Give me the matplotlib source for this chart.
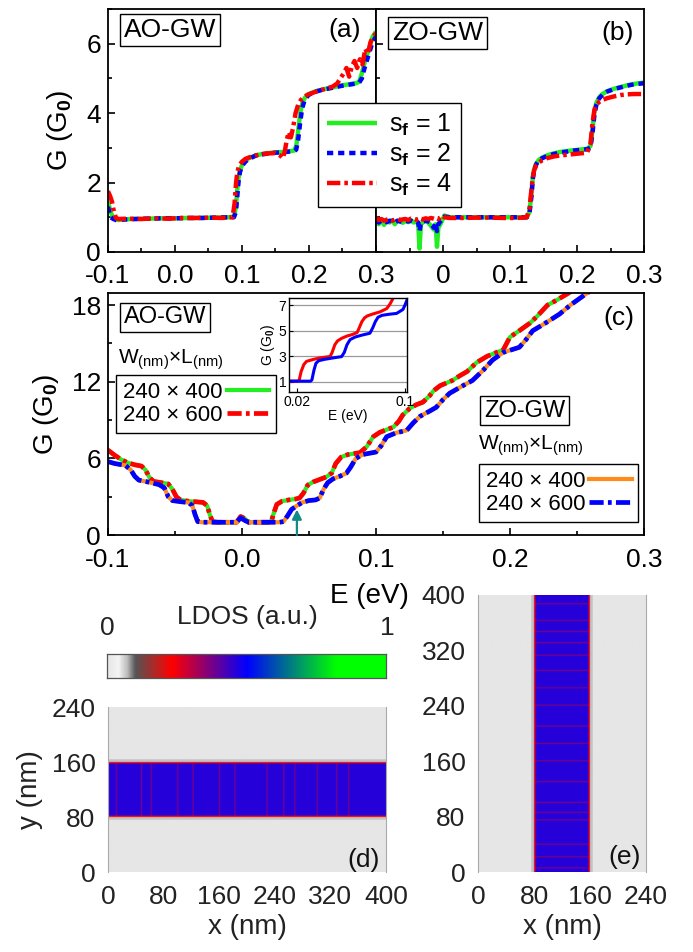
import numpy as np
import matplotlib
matplotlib.use("Agg")
import matplotlib.pyplot as plt
from matplotlib.colors import LinearSegmentedColormap
from matplotlib.ticker import MultipleLocator

plt.rcParams['font.family'] = ['Liberation Sans', 'DejaVu Sans']
plt.rcParams['mathtext.fontset'] = 'custom'
plt.rcParams['mathtext.rm'] = 'Liberation Sans'
plt.rcParams['mathtext.it'] = 'Liberation Sans:italic'
plt.rcParams['mathtext.bf'] = 'Liberation Sans:bold'
plt.rcParams['mathtext.default'] = 'regular'

# ---- panel (a): AO-GW, three s_f values
a_E_s1 = [-0.100, -0.096, -0.092, -0.088, -0.084, -0.080, -0.060, -0.040, -0.020, 0.000,
          0.020, 0.040, 0.060, 0.080, 0.088, 0.091, 0.093, 0.095, 0.097, 0.100,
          0.105, 0.110, 0.120, 0.130, 0.140, 0.150, 0.160, 0.170, 0.178, 0.181,
          0.184, 0.187, 0.190, 0.194, 0.200, 0.210, 0.220, 0.230, 0.240, 0.250,
          0.260, 0.270, 0.275, 0.279, 0.283, 0.287, 0.291, 0.295, 0.300]
a_G_s1 = [1.45, 1.15, 0.98, 0.94, 0.92, 0.94, 0.95, 0.96, 0.97, 0.97,
          0.98, 0.98, 0.99, 1.00, 1.02, 1.30, 1.80, 2.15, 2.35, 2.50,
          2.62, 2.70, 2.78, 2.82, 2.85, 2.87, 2.88, 2.90, 2.92, 3.05,
          3.50, 4.00, 4.28, 4.45, 4.55, 4.63, 4.68, 4.72, 4.76, 4.80,
          4.83, 4.86, 4.90, 5.15, 5.45, 5.70, 5.95, 6.20, 6.35]
a_G_s2 = [1.30, 1.00, 0.95, 0.92, 0.90, 0.93, 0.95, 0.96, 0.97, 0.97,
          0.98, 0.98, 0.99, 1.00, 1.00, 1.15, 1.60, 2.05, 2.30, 2.48,
          2.60, 2.68, 2.77, 2.81, 2.84, 2.86, 2.87, 2.89, 2.90, 2.95,
          3.25, 3.75, 4.15, 4.40, 4.53, 4.62, 4.67, 4.71, 4.75, 4.79,
          4.82, 4.85, 4.88, 5.00, 5.30, 5.55, 5.80, 6.05, 6.20]
a_E_s4 = [-0.100, -0.097, -0.094, -0.091, -0.088, -0.084, -0.070, -0.050, -0.030, -0.010,
          0.010, 0.030, 0.050, 0.070, 0.086, 0.089, 0.091, 0.093, 0.096, 0.100,
          0.105, 0.110, 0.120, 0.130, 0.140, 0.150, 0.157, 0.161, 0.164, 0.167,
          0.170, 0.173, 0.176, 0.180, 0.184, 0.188, 0.192, 0.197, 0.205, 0.215,
          0.225, 0.235, 0.242, 0.247, 0.252, 0.256, 0.260, 0.264, 0.268, 0.272,
          0.276, 0.280, 0.284, 0.288, 0.292, 0.296, 0.300]
a_G_s4 = [1.75, 1.62, 1.45, 1.15, 0.98, 0.95, 0.96, 0.95, 0.97, 0.96,
          0.98, 0.98, 0.99, 0.98, 1.00, 1.40, 1.95, 2.30, 2.50, 2.60,
          2.68, 2.72, 2.78, 2.82, 2.84, 2.85, 2.78, 2.70, 2.90, 3.25,
          3.45, 3.30, 3.55, 4.00, 4.25, 4.38, 4.45, 4.52, 4.58, 4.65,
          4.70, 4.76, 4.85, 5.00, 5.15, 5.30, 5.05, 5.35, 5.50, 5.30,
          5.55, 5.40, 5.85, 5.70, 6.05, 6.20, 6.30]

# ---- panel (b): ZO-GW, three s_f values
b_E = [-0.100, -0.096, -0.092, -0.088, -0.084, -0.080, -0.076, -0.072, -0.068, -0.064,
       -0.060, -0.056, -0.052, -0.048, -0.044, -0.040, -0.037, -0.035, -0.033, -0.030,
       -0.026, -0.022, -0.018, -0.014, -0.011, -0.009, -0.007, -0.004, -0.001, 0.002,
       0.010, 0.030, 0.050, 0.070, 0.090, 0.110, 0.125, 0.129, 0.132, 0.134,
       0.136, 0.139, 0.143, 0.148, 0.155, 0.165, 0.175, 0.185, 0.195, 0.205,
       0.215, 0.220, 0.223, 0.226, 0.229, 0.233, 0.238, 0.245, 0.255, 0.265,
       0.275, 0.285, 0.300]
b_G_s1 = [0.95, 0.80, 0.92, 0.78, 0.90, 0.85, 0.92, 0.80, 0.90, 0.88,
          0.84, 0.90, 0.86, 0.92, 0.85, 0.88, 0.80, 0.10, 0.80, 0.85,
          0.90, 0.85, 0.75, 0.65, 0.80, 0.15, 0.70, 0.80, 0.92, 1.05,
          1.00, 1.00, 1.00, 1.00, 1.00, 1.00, 1.00, 1.15, 1.70, 2.15,
          2.38, 2.55, 2.65, 2.72, 2.78, 2.84, 2.88, 2.91, 2.93, 2.95,
          2.97, 3.05, 3.50, 4.05, 4.30, 4.45, 4.55, 4.63, 4.70, 4.75,
          4.80, 4.84, 4.88]
b_G_s2 = [0.92, 0.85, 0.90, 0.88, 0.86, 0.90, 0.88, 0.85, 0.90, 0.88,
          0.87, 0.90, 0.88, 0.90, 0.86, 0.88, 0.85, 0.60, 0.85, 0.88,
          0.90, 0.88, 0.85, 0.70, 0.85, 0.60, 0.80, 0.88, 0.95, 1.02,
          1.00, 1.00, 1.00, 1.00, 1.00, 1.00, 1.00, 1.10, 1.60, 2.10,
          2.35, 2.52, 2.63, 2.70, 2.76, 2.82, 2.86, 2.89, 2.92, 2.94,
          2.96, 3.00, 3.40, 3.95, 4.25, 4.42, 4.53, 4.62, 4.69, 4.74,
          4.79, 4.83, 4.86]
b_G_s4 = [0.98, 0.92, 0.95, 0.90, 0.93, 0.95, 0.90, 0.93, 0.95, 0.92,
          0.94, 0.95, 0.92, 0.96, 0.95, 0.93, 0.95, 0.92, 0.96, 0.94,
          0.97, 0.95, 0.98, 0.96, 0.94, 0.97, 0.95, 1.00, 1.05, 1.00,
          0.98, 0.98, 0.99, 0.99, 0.98, 0.98, 1.00, 1.25, 1.80, 2.15,
          2.35, 2.50, 2.58, 2.64, 2.70, 2.75, 2.78, 2.80, 2.82, 2.84,
          2.86, 3.10, 3.70, 4.10, 4.25, 4.32, 4.38, 4.43, 4.48, 4.52,
          4.54, 4.55, 4.55]

# ---- panel (c): AO-GW and ZO-GW for two lengths (the two lengths overlap)
ao_E = [-0.100, -0.095, -0.090, -0.085, -0.080, -0.075, -0.072, -0.069, -0.066, -0.060,
        -0.055, -0.052, -0.049, -0.046, -0.040, -0.034, -0.029, -0.026, -0.024, -0.022,
        -0.018, -0.010, -0.004, -0.001, 0.002, 0.005, 0.012, 0.020, 0.022, 0.024,
        0.026, 0.030, 0.035, 0.040, 0.043, 0.046, 0.049, 0.053, 0.058, 0.063,
        0.067, 0.070, 0.074, 0.079, 0.088, 0.093, 0.098, 0.103, 0.108, 0.113,
        0.117, 0.120, 0.125, 0.130, 0.135, 0.140, 0.143, 0.148, 0.157, 0.163,
        0.168, 0.175, 0.183, 0.190, 0.195, 0.200, 0.207, 0.215, 0.220, 0.228,
        0.235, 0.243, 0.252]
ao_G = [6.65, 6.25, 5.90, 5.65, 5.50, 5.40, 5.10, 4.50, 4.20, 4.10,
        4.00, 3.60, 3.00, 2.75, 2.65, 2.60, 2.55, 2.30, 1.60, 1.05,
        1.00, 1.00, 1.00, 1.45, 1.30, 1.00, 1.00, 1.00, 1.10, 1.80,
        2.40, 2.65, 2.75, 2.82, 2.90, 3.30, 3.90, 4.15, 4.35, 4.55,
        4.85, 5.60, 6.10, 6.30, 6.45, 6.90, 7.70, 8.05, 8.25, 8.45,
        8.90, 9.40, 9.90, 10.20, 10.40, 10.90, 11.30, 11.70, 12.10, 12.50,
        12.80, 13.50, 14.00, 14.30, 14.50, 15.50, 16.00, 16.60, 17.10, 18.00,
        18.40, 18.90, 19.50]
zo_E = [-0.100, -0.095, -0.087, -0.083, -0.080, -0.077, -0.070, -0.062, -0.058, -0.055,
        -0.052, -0.045, -0.040, -0.037, -0.035, -0.033, -0.030, -0.015, -0.004, -0.001,
        0.002, 0.005, 0.015, 0.028, 0.031, 0.034, 0.037, 0.041, 0.045, 0.050,
        0.055, 0.058, 0.061, 0.064, 0.068, 0.073, 0.078, 0.081, 0.085, 0.090,
        0.100, 0.104, 0.108, 0.115, 0.123, 0.128, 0.133, 0.140, 0.145, 0.150,
        0.155, 0.165, 0.172, 0.180, 0.187, 0.195, 0.207, 0.212, 0.217, 0.225,
        0.237, 0.245, 0.257, 0.265]
zo_G = [5.75, 5.60, 5.45, 5.10, 4.60, 4.30, 4.15, 3.95, 3.70, 3.00,
        2.70, 2.60, 2.55, 2.30, 1.60, 1.05, 1.00, 1.00, 1.00, 1.35,
        1.15, 1.00, 1.00, 1.00, 1.05, 1.50, 2.00, 2.30, 2.55, 2.70,
        2.75, 2.90, 3.60, 4.10, 4.40, 4.60, 4.85, 5.30, 6.00, 6.30,
        6.50, 7.00, 7.70, 8.00, 8.20, 8.80, 9.30, 9.70, 10.00, 10.60,
        11.10, 11.70, 12.10, 12.90, 13.70, 14.30, 14.70, 15.30, 16.00, 16.50,
        17.30, 18.00, 18.90, 19.50]
arrow_E = 0.041
arrow_G = 2.0

# inset of (c)
ins_red_E = [0.014, 0.020, 0.0215, 0.023, 0.025, 0.027, 0.032, 0.037, 0.041, 0.0445,
             0.046, 0.048, 0.050, 0.053, 0.057, 0.061, 0.0645, 0.066, 0.068, 0.070,
             0.072, 0.076, 0.0815, 0.0865, 0.089, 0.091, 0.093]
ins_red_G = [1.05, 1.05, 1.10, 1.80, 2.35, 2.60, 2.75, 2.87, 2.93, 2.98,
             3.30, 3.90, 4.20, 4.40, 4.58, 4.70, 4.85, 5.20, 5.70, 6.00,
             6.15, 6.30, 6.47, 6.73, 7.10, 7.50, 7.90]
ins_blue_E = [0.014, 0.030, 0.031, 0.0325, 0.034, 0.036, 0.040, 0.0467, 0.053, 0.055,
              0.057, 0.0593, 0.063, 0.068, 0.074, 0.076, 0.078, 0.080, 0.083, 0.088,
              0.0938, 0.0985, 0.100, 0.1015]
ins_blue_G = [1.05, 1.05, 1.15, 1.90, 2.45, 2.65, 2.75, 2.87, 2.97, 3.30,
              3.90, 4.30, 4.50, 4.65, 4.80, 5.20, 5.70, 6.05, 6.20, 6.28,
              6.35, 6.66, 7.00, 7.40]

# ---- LDOS maps (d), (e): ribbon edges (nm) and stripe positions (nm)
rib_lo, rib_hi = 80, 160
d_stripes = [12, 48, 62, 100, 122, 160, 182, 228, 252, 268, 300, 328, 345]
e_stripes = [6, 22, 40, 75, 86, 100, 130, 160, 185, 210, 240, 265, 290, 312, 330, 346, 362, 386]
bg_val, shadow_val, edge_val, core_val, stripe_val = 0.0, 0.07, 0.24, 0.46, 0.38

ldos_cmap = LinearSegmentedColormap.from_list('ldos', [
    (0.0, '#e6e6e6'), (0.04, '#f4f4f4'), (0.07, '#bdbdbd'), (0.10, '#555555'),
    (0.23, '#ff0000'), (0.50, '#0000ff'), (0.82, '#00ff00'), (1.0, '#00ff00')])

c_green, c_blue, c_red, c_orange = '#22ee22', '#0000ff', '#ff0000', '#ff8c1a'
dot = (0, (1.4, 1.1))
dashdot = (0, (3.0, 0.9, 0.8, 0.9))


def style(ax, size=19):
    ax.tick_params(which='both', direction='in', labelsize=size, width=1.2, colors='black')
    ax.tick_params(which='major', length=5)
    ax.tick_params(which='minor', length=3)
    for s in ax.spines.values():
        s.set_linewidth(1.3)


def boxed(ax, x, y, s, size):
    ax.text(x, y, s, transform=ax.transAxes, fontsize=size, ha='center', va='center',
            bbox=dict(boxstyle='square,pad=0.15', fc='white', ec='black', lw=1.0))


fig = plt.figure(figsize=(6.93, 9.52), dpi=100)

# ---------------- (a)
ax_a = fig.add_axes([0.1558, 0.7353, 0.3867, 0.2553])
l1, = ax_a.plot(a_E_s1, a_G_s1, color=c_green, lw=3.2, solid_capstyle='butt')
l2, = ax_a.plot(a_E_s1, a_G_s2, color=c_blue, lw=3.2, ls=dot)
l4, = ax_a.plot(a_E_s4, a_G_s4, color=c_red, lw=3.2, ls=dashdot)
ax_a.set_xlim(-0.1, 0.3)
ax_a.set_ylim(0, 7)
ax_a.set_xticks([-0.1, 0.0, 0.1, 0.2, 0.3])
ax_a.set_xticklabels(['-0.1', '0.0', '0.1', '0.2', '0.3'])
ax_a.xaxis.set_minor_locator(MultipleLocator(0.05))
ax_a.yaxis.set_major_locator(MultipleLocator(2))
ax_a.yaxis.set_minor_locator(MultipleLocator(1))
style(ax_a)
ax_a.tick_params(axis='x', pad=9)
ax_a.tick_params(axis='y', pad=5)
ax_a.set_ylabel('G (G$_\\mathbf{0}$)', fontsize=20, labelpad=8)
boxed(ax_a, 0.231, 0.913, 'AO-GW', 19)
ax_a.text(0.884, 0.915, '(a)', transform=ax_a.transAxes, fontsize=19, ha='center', va='center')

# ---------------- (b)
ax_b = fig.add_axes([0.5426, 0.7353, 0.3867, 0.2553])
ax_b.plot(b_E, b_G_s1, color=c_green, lw=3.2)
ax_b.plot(b_E, b_G_s2, color=c_blue, lw=3.2, ls=dot)
ax_b.plot(b_E, b_G_s4, color=c_red, lw=3.2, ls=dashdot)
ax_b.set_xlim(-0.1, 0.3)
ax_b.set_ylim(0, 7)
ax_b.set_xticks([-0.1, 0.0, 0.1, 0.2, 0.3])
ax_b.set_xticklabels(['', '0', '0.1', '0.2', '0.3'])
ax_b.xaxis.set_minor_locator(MultipleLocator(0.05))
ax_b.yaxis.set_major_locator(MultipleLocator(2))
ax_b.yaxis.set_minor_locator(MultipleLocator(1))
ax_b.set_yticklabels([])
style(ax_b)
ax_b.tick_params(axis='x', pad=9)
boxed(ax_b, 0.231, 0.900, 'ZO-GW', 19)
ax_b.text(0.903, 0.900, '(b)', transform=ax_b.transAxes, fontsize=19, ha='center', va='center')

leg = fig.legend([l1, l2, l4], ['s$_\\mathbf{f}$ = 1', 's$_\\mathbf{f}$ = 2', 's$_\\mathbf{f}$ = 4'],
                 loc='upper left', bbox_to_anchor=(0.4589, 0.8918), fontsize=18,
                 handlelength=2.0, handletextpad=0.5, borderpad=0.35, labelspacing=0.15,
                 fancybox=False, edgecolor='black', framealpha=1, borderaxespad=0)
leg.get_frame().set_linewidth(1.0)

# ---------------- (c)
ax_c = fig.add_axes([0.1558, 0.4380, 0.7734, 0.2542])
g400, = ax_c.plot(ao_E, ao_G, color=c_green, lw=3.0)
r600, = ax_c.plot(ao_E, ao_G, color=c_red, lw=3.4, ls=dashdot)
o400, = ax_c.plot(zo_E, zo_G, color=c_orange, lw=3.0)
b600, = ax_c.plot(zo_E, zo_G, color=c_blue, lw=3.4, ls=dashdot)
ax_c.set_xlim(-0.1, 0.3)
ax_c.set_ylim(0, 18.95)
ax_c.set_xticks([-0.1, 0.0, 0.1, 0.2, 0.3])
ax_c.set_xticklabels(['-0.1', '0.0', '0.1', '0.2', '0.3'])
ax_c.xaxis.set_minor_locator(MultipleLocator(0.05))
ax_c.yaxis.set_major_locator(MultipleLocator(6))
ax_c.yaxis.set_minor_locator(MultipleLocator(3))
style(ax_c)
ax_c.tick_params(axis='x', pad=9)
ax_c.tick_params(axis='y', pad=5)
ax_c.set_ylabel('G (G$_\\mathbf{0}$)', fontsize=20, labelpad=8)
ax_c.set_xlabel('E (eV)', fontsize=20)
ax_c.xaxis.set_label_coords(0.487, -0.20)
ax_c.annotate('', xy=(arrow_E, arrow_G), xytext=(arrow_E, 0),
              arrowprops=dict(arrowstyle='-|>', color='#138a8a', lw=1.6, mutation_scale=14,
                              shrinkA=0, shrinkB=0))
boxed(ax_c, 0.106, 0.900, 'AO-GW', 17)
ax_c.text(0.019, 0.723, 'W$_{(nm)}$×L$_{(nm)}$', transform=ax_c.transAxes, fontsize=15,
          ha='left', va='center')
boxed(ax_c, 0.777, 0.514, 'ZO-GW', 17)
ax_c.text(0.69, 0.368, 'W$_{(nm)}$×L$_{(nm)}$', transform=ax_c.transAxes, fontsize=15,
          ha='left', va='center')
ax_c.text(0.953, 0.897, '(c)', transform=ax_c.transAxes, fontsize=19, ha='center', va='center')

leg1 = ax_c.legend([g400, r600], ['240 × 400', '240 × 600'], loc='upper left',
                   bbox_to_anchor=(0.015, 0.661), fontsize=16, markerfirst=False,
                   handlelength=1.9, handletextpad=0.2, borderpad=0.3, labelspacing=0.1,
                   fancybox=False, edgecolor='black', framealpha=1, borderaxespad=0)
leg1.get_frame().set_linewidth(1.0)
ax_c.add_artist(leg1)
leg2 = ax_c.legend([o400, b600], ['240 × 400', '240 × 600'], loc='upper left',
                   bbox_to_anchor=(0.692, 0.293), fontsize=16, markerfirst=False,
                   handlelength=1.9, handletextpad=0.2, borderpad=0.3, labelspacing=0.1,
                   fancybox=False, edgecolor='black', framealpha=1, borderaxespad=0)
leg2.get_frame().set_linewidth(1.0)

# inset
ax_in = fig.add_axes([0.4170, 0.5882, 0.1703, 0.0987])
ax_in.plot(ins_red_E, ins_red_G, color=c_red, lw=2.2)
ax_in.plot(ins_blue_E, ins_blue_G, color=c_blue, lw=2.2)
ax_in.set_xlim(0.014, 0.1015)
ax_in.set_ylim(0.2, 7.55)
ax_in.set_yticks([1, 3, 5, 7])
ax_in.set_xticks([0.02, 0.1])
ax_in.set_xticklabels(['0.02', '0.1'])
ax_in.grid(axis='y', color='#999999', lw=0.9)
ax_in.tick_params(direction='in', labelsize=10, length=3, pad=2)
for s in ax_in.spines.values():
    s.set_linewidth(1.0)
ax_in.set_ylabel('G (G$_\\mathbf{0}$)', fontsize=10, labelpad=1)
ax_in.set_xlabel('E (eV)', fontsize=10, labelpad=0)

# ---------------- colorbar
cax = fig.add_axes([0.1544, 0.2878, 0.4026, 0.0252])
cax.imshow(np.linspace(0, 1, 256)[None, :], aspect='auto', cmap=ldos_cmap,
           extent=[0, 1, 0, 1], vmin=0, vmax=1)
cax.set_xticks([])
cax.set_yticks([])
for s in cax.spines.values():
    s.set_color('#555555')
    s.set_linewidth(0.9)
fig.text(107 / 693, 1 - 628 / 952, '0', fontsize=19, color='#222222', ha='center', va='center')
fig.text(387 / 693, 1 - 628 / 952, '1', fontsize=19, color='#222222', ha='center', va='center')
fig.text(247 / 693, 1 - 617 / 952, 'LDOS (a.u.)', fontsize=19, color='#222222',
         ha='center', va='center')

# ---------------- (d)
dx = np.arange(0, 400, 1) + 0.5
dy = np.arange(0, 240, 1) + 0.5
DX, DY = np.meshgrid(dx, dy)
d_img = np.full(DX.shape, bg_val)
inside = (DY >= rib_lo) & (DY <= rib_hi)
near = (~inside) & ((np.abs(DY - rib_lo) < 4) | (np.abs(DY - rib_hi) < 4))
d_img[near] = shadow_val
d_img[inside] = core_val
for xs in d_stripes:
    d_img[inside & (np.abs(DX - xs) < 1.2)] = stripe_val
d_img[inside & ((DY - rib_lo < 2) | (rib_hi - DY < 2))] = edge_val

ax_d = fig.add_axes([0.1558, 0.0840, 0.4012, 0.1733])
ax_d.imshow(d_img, origin='lower', extent=[0, 400, 0, 240], aspect='auto',
            cmap=ldos_cmap, vmin=0, vmax=1, interpolation='bilinear')
ax_d.set_xticks([0, 80, 160, 240, 320, 400])
ax_d.set_yticks([0, 80, 160, 240])
ax_d.tick_params(length=0, labelsize=19, labelcolor='#222222', pad=9)
for k, s in ax_d.spines.items():
    s.set_visible(k in ('left', 'right'))
    s.set_color('#aaaaaa')
    s.set_linewidth(0.8)
ax_d.set_xlabel('x (nm)', fontsize=20, color='#222222', labelpad=4)
ax_d.set_ylabel('y (nm)', fontsize=20, color='#222222', labelpad=6)
ax_d.text(0.92, 0.075, '(d)', transform=ax_d.transAxes, fontsize=19, color='#111111',
          ha='center', va='center')

# ---------------- (e)
ex = np.arange(0, 240, 1) + 0.5
ey = np.arange(0, 400, 1) + 0.5
EX, EY = np.meshgrid(ex, ey)
e_img = np.full(EX.shape, bg_val)
inside_e = (EX >= rib_lo) & (EX <= rib_hi)
near_e = (~inside_e) & ((np.abs(EX - rib_lo) < 4) | (np.abs(EX - rib_hi) < 4))
e_img[near_e] = shadow_val
e_img[inside_e] = core_val
for ys in e_stripes:
    e_img[inside_e & (np.abs(EY - ys) < 1.2)] = stripe_val
e_img[inside_e & ((EX - rib_lo < 2) | (rib_hi - EX < 2))] = edge_val

ax_e = fig.add_axes([0.6898, 0.0840, 0.2424, 0.2910])
ax_e.imshow(e_img, origin='lower', extent=[0, 240, 0, 400], aspect='auto',
            cmap=ldos_cmap, vmin=0, vmax=1, interpolation='bilinear')
ax_e.set_xticks([0, 80, 160, 240])
ax_e.set_yticks([0, 80, 160, 240, 320, 400])
ax_e.tick_params(length=0, labelsize=19, labelcolor='#222222', pad=9)
for k, s in ax_e.spines.items():
    s.set_visible(k in ('left', 'right'))
    s.set_color('#aaaaaa')
    s.set_linewidth(0.8)
ax_e.set_xlabel('x (nm)', fontsize=20, color='#222222', labelpad=4)
ax_e.text(0.87, 0.055, '(e)', transform=ax_e.transAxes, fontsize=19, color='#111111',
          ha='center', va='center')

fig.savefig('out.png', dpi=100)
